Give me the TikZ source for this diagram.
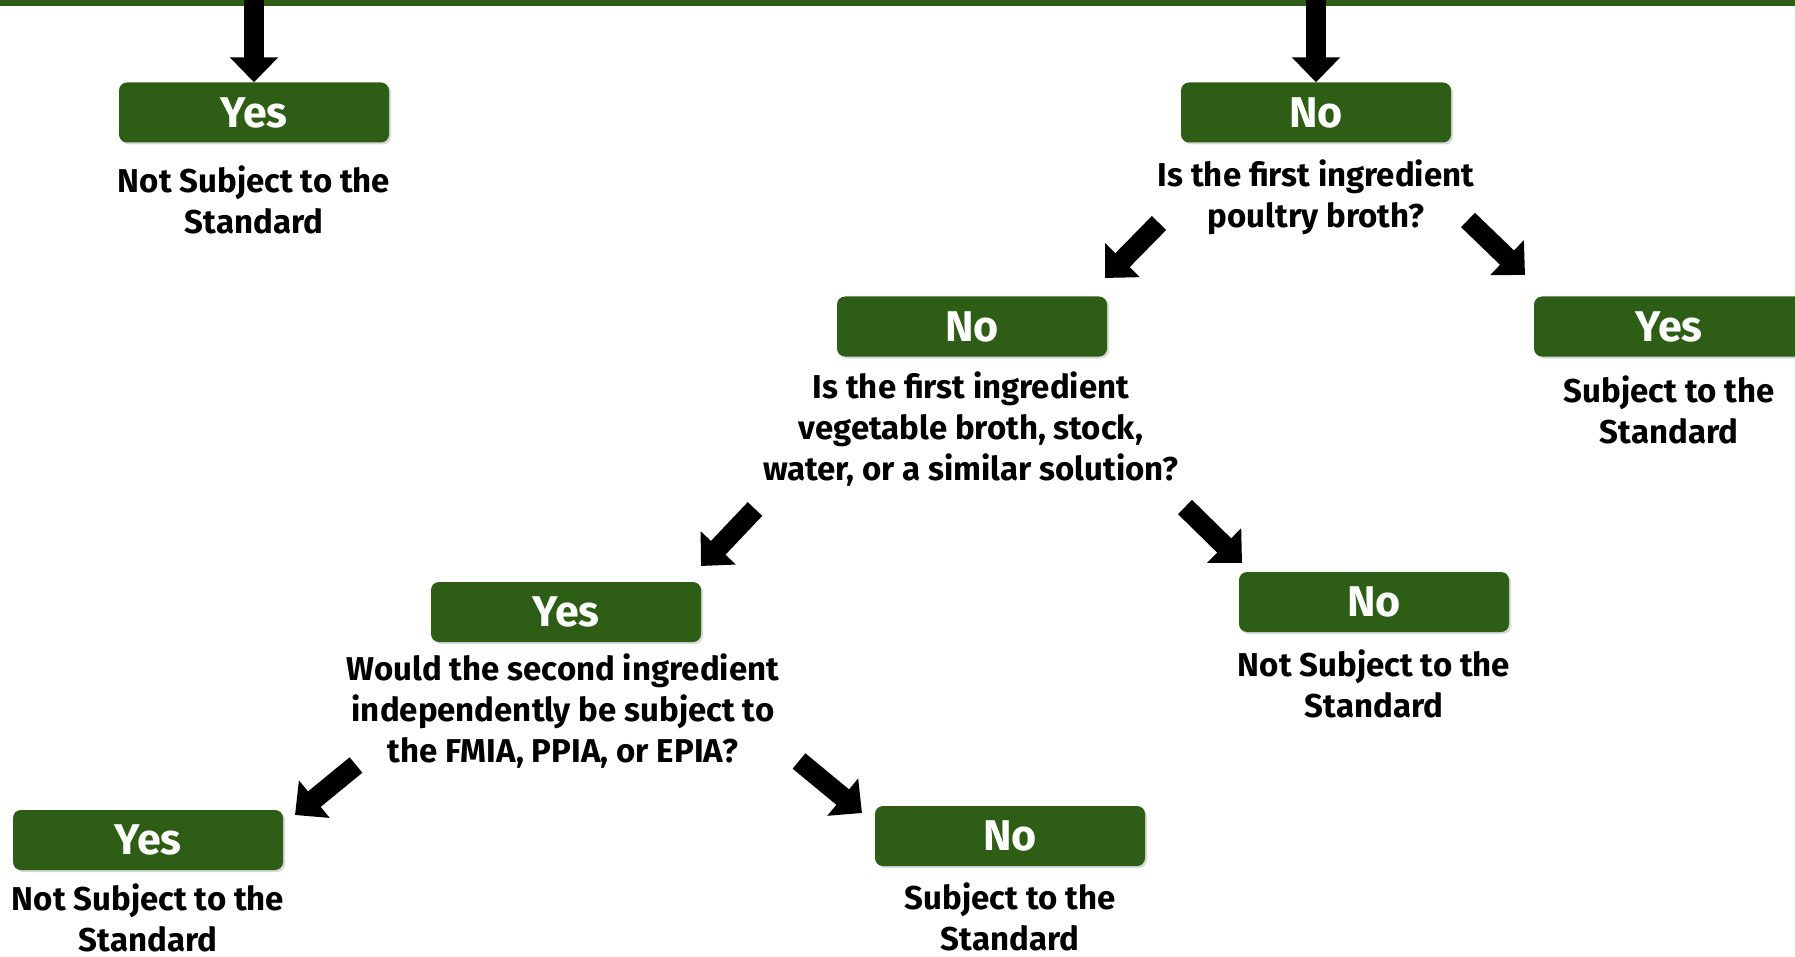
\documentclass[tikz,border=0pt]{standalone}
\usepackage{fontspec}
\setmainfont{Fira Sans}
\usetikzlibrary{arrows.meta}
\usetikzlibrary{shadows}
\definecolor{boxgreen}{RGB}{46,94,21}

\tikzset{
  answer/.style={fill=boxgreen, rounded corners=8pt, minimum width=270pt,
    minimum height=60pt, inner sep=0pt, text=white,
    font=\bfseries\fontsize{43}{46}\selectfont,
    drop shadow={opacity=0.3, shadow xshift=2pt, shadow yshift=-2pt}},
  caption/.style={align=center, inner sep=0pt,
    font=\bfseries\fontsize{33}{41}\selectfont},
  bigarrow/.style={line width=20pt, -{Triangle[width=47pt,length=25pt]}}
}

\begin{document}
\begin{tikzpicture}[x=1pt,y=-1pt]
    \useasboundingbox (0,0) rectangle (1795,957);
    %top bar
    \fill[boxgreen] (0,0) rectangle (1795,6);
    %answer boxes
    \node[answer] (yesTop) at (254,112.5) {Yes};
    \node[answer] (noTop) at (1316,112.5) {No};
    \node[answer] (noPoultry) at (972,326.5) {No};
    \node[answer] (yesPoultry) at (1669,326.5) {Yes};
    \node[answer] (yesVeg) at (566,612) {Yes};
    \node[answer] (noVeg) at (1374,602) {No};
    \node[answer] (yesSecond) at (148,840) {Yes};
    \node[answer] (noSecond) at (1010,836) {No};
    %questions and results
    \node[caption] (resTop) at (254,200) {Not Subject to the\\Standard};
    \node[caption] (qPoultry) at (1316,197) {Is the first ingredient\\poultry broth?};
    \node[caption] (resPoultry) at (1669,410) {Subject to the\\Standard};
    \node[caption] (qVeg) at (971,429) {Is the first ingredient\\vegetable broth, stock,\\water, or a similar solution?};
    \node[caption] (resVeg) at (1374,684) {Not Subject to the\\Standard};
    \node[caption] (qSecond) at (563,711) {Would the second ingredient\\independently be subject to\\the FMIA, PPIA, or EPIA?};
    \node[caption] (resYesSecond) at (148,918) {Not Subject to the\\Standard};
    \node[caption] (resNoSecond) at (1010,917) {Subject to the\\Standard};
    %arrow ends
    \coordinate (barL) at (254,0);
    \coordinate (barR) at (1316,0);
    \coordinate (p1) at (1159,223);
    \coordinate (p1e) at (1105,278);
    \coordinate (p2) at (1468,220);
    \coordinate (p2e) at (1525,275);
    \coordinate (v1) at (755,509);
    \coordinate (v1e) at (701,566);
    \coordinate (v2) at (1185,507);
    \coordinate (v2e) at (1242,563);
    \coordinate (s1) at (356,765);
    \coordinate (s1e) at (295,815);
    \coordinate (s2) at (799,761);
    \coordinate (s2e) at (862,813);
    %arrows
    \draw[bigarrow] (barL) -- (yesTop.north);
    \draw[bigarrow] (barR) -- (noTop.north);
    \draw[bigarrow] (p1) -- (p1e);
    \draw[bigarrow] (p2) -- (p2e);
    \draw[bigarrow] (v1) -- (v1e);
    \draw[bigarrow] (v2) -- (v2e);
    \draw[bigarrow] (s1) -- (s1e);
    \draw[bigarrow] (s2) -- (s2e);
\end{tikzpicture}
\end{document}
